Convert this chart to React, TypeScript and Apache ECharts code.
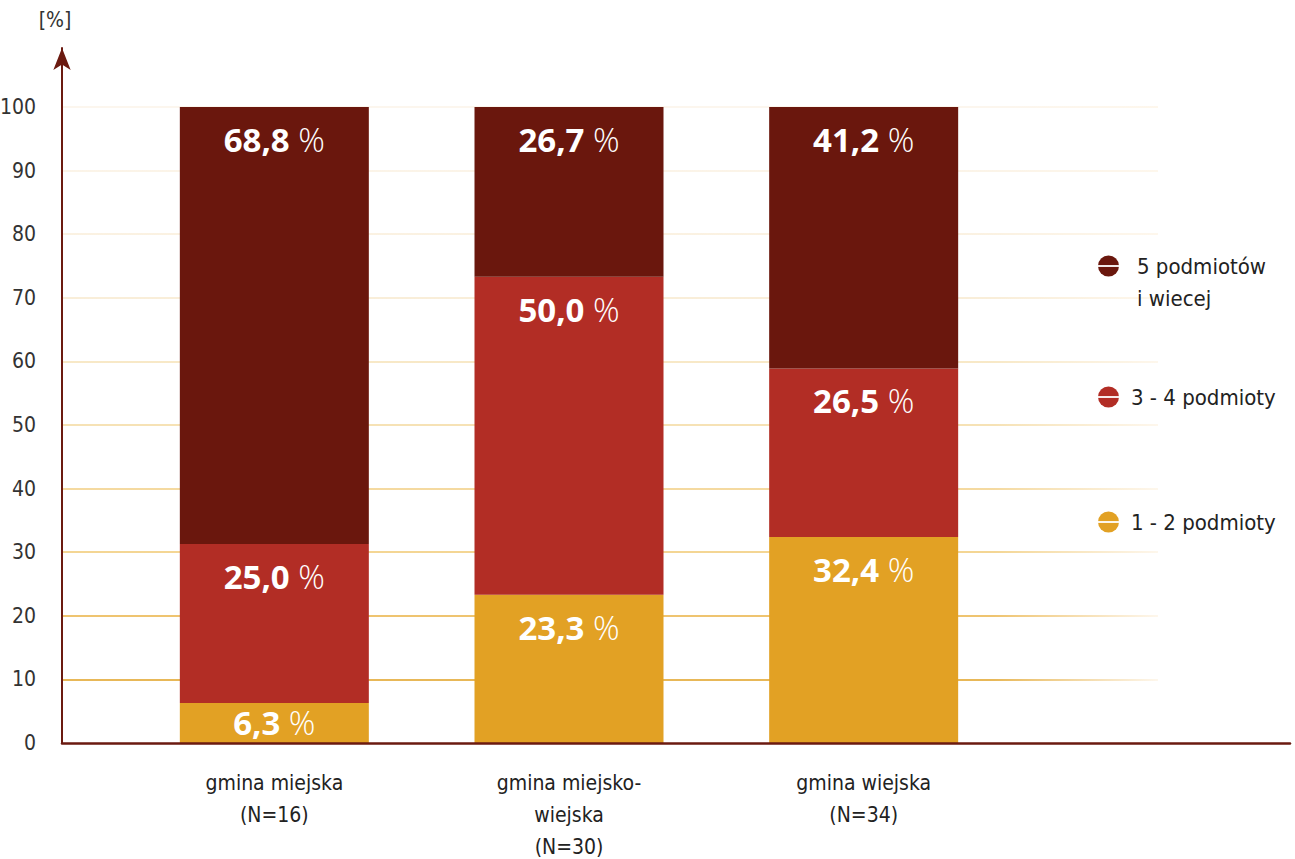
import React, { useEffect, useRef } from "react";
import * as echarts from "echarts";

const categories = ["gmina miejska\n(N=16)", "gmina miejsko-\nwiejska\n(N=30)", "gmina wiejska\n(N=34)"];
const seriesNames = ["1 - 2 podmioty", "3 - 4 podmioty", "5 podmiotów i wiecej"];
const values12 = [6.3, 23.3, 32.4];
const values34 = [25.0, 50.0, 26.5];
const values5 = [68.8, 26.7, 41.2];
const yTicksMax = 100;
const yTickStep = 10;

const COLORS = ["#e2a124", "#b22d25", "#6a170d"];
const AXIS_COLOR = "#6b1a10";
const NARROW = '"Liberation Sans Narrow", "DejaVu Sans Condensed", "Roboto Condensed", sans-serif';
const GRID_COLORS = ["#ffffff", "#e0a020", "#e9b040", "#f0c870", "#f1cd80", "#f3d89c", "#f5e1b4", "#f7e8cc", "#f9edd8", "#faf0e0", "#fbf3e8"];

function gradientFor(c: string) {
  return {
    type: "linear",
    x: 62, y: 0, x2: 1158, y2: 0,
    global: true,
    colorStops: [
      { offset: 0, color: c },
      { offset: 0.85, color: c },
      { offset: 1, color: "#fdf4e6" },
    ],
  };
}

function iconSvg(color: string, w: number, h: number, cy: number) {
  const svg = `<svg xmlns="http://www.w3.org/2000/svg" width="${w}" height="${h}" viewBox="0 0 ${w} ${h}"><circle cx="10.5" cy="${cy}" r="10.5" fill="${color}"/><rect x="0" y="${cy - 0.9}" width="21" height="1.8" fill="#ffffff"/></svg>`;
  return "image://data:image/svg+xml;utf8," + encodeURIComponent(svg);
}

function fmt(v: number) {
  return v.toFixed(1).replace(".", ",");
}

export default function App() {
  const ref = useRef<HTMLDivElement>(null);
  useEffect(() => {
    if (!ref.current) return;
    const chart = echarts.init(ref.current, null, { renderer: "svg" });
    const lists = [values12, values34, values5];
    const labelRich = {
      v: { fontFamily: '"Open Sans", sans-serif', fontWeight: "bold", fontSize: 33, color: "#ffffff" },
      p: { fontFamily: '"Open Sans", Lato, sans-serif', fontWeight: 300, fontSize: 33, color: "#ffffff" },
    };
    const series = lists.map((arr, i) => ({
      type: "bar",
      name: seriesNames[i],
      stack: "total",
      xAxisIndex: 0,
      yAxisIndex: 0,
      barWidth: 189,
      itemStyle: { color: COLORS[i] },
      label: {
        show: true,
        position: "insideTop",
        distance: 16,
        formatter: (p: any) => `{v|${fmt(p.value)}}{p| %}`,
        rich: labelRich,
      },
      data: arr.map((v) => (v < 10 ? { value: v, label: { position: "inside" } } : v)),
    }));

    const legendCommon = {
      left: 1093,
      orient: "vertical",
      selectedMode: false,
      textStyle: { fontFamily: NARROW, fontSize: 22, color: "#222222" },
    };

    chart.setOption({
      animation: false,
      backgroundColor: "#ffffff",
      grid: [
        { left: 127, width: 884, top: 107, bottom: 116, outerBoundsMode: "none", containLabel: false },
        { left: 62, right: 137, top: 107, bottom: 116, outerBoundsMode: "none", containLabel: false },
        { left: 62, right: 5, top: 48, bottom: 116, outerBoundsMode: "none", containLabel: false },
      ],
      xAxis: [
        {
          type: "category",
          gridIndex: 0,
          data: categories,
          axisLine: { show: false },
          axisTick: { show: false },
          axisLabel: { margin: 24, fontFamily: NARROW, fontSize: 21, color: "#222222", lineHeight: 32 },
        },
        { type: "value", gridIndex: 1, show: false, min: 0, max: 1 },
        {
          type: "category",
          gridIndex: 2,
          data: [""],
          z: 5,
          axisLine: { show: true, lineStyle: { color: AXIS_COLOR, width: 2.5 } },
          axisTick: { show: false },
          axisLabel: { show: false },
        },
      ],
      yAxis: [
        { type: "value", gridIndex: 0, min: 0, max: yTicksMax, interval: yTickStep, show: false },
        {
          type: "value",
          gridIndex: 1,
          min: 0,
          max: yTicksMax,
          interval: yTickStep,
          axisLine: { show: false },
          axisTick: { show: false },
          axisLabel: { margin: 26, fontFamily: NARROW, fontSize: 21, color: "#333333" },
          splitLine: { show: true, lineStyle: { width: 1.5, color: GRID_COLORS.map(gradientFor) } },
        },
        {
          type: "value",
          gridIndex: 2,
          min: 0,
          max: 1,
          z: 5,
          name: "[%]",
          nameLocation: "end",
          nameGap: 18,
          nameTextStyle: { fontFamily: NARROW, fontSize: 21, color: "#333333", padding: [0, 14, 0, 0] },
          axisLine: {
            show: true,
            symbol: ["none", "arrow"],
            symbolSize: [13, 22],
            lineStyle: { color: AXIS_COLOR, width: 2 },
          },
          axisTick: { show: false },
          axisLabel: { show: false },
          splitLine: { show: false },
        },
      ],
      legend: [
        {
          ...legendCommon,
          top: 245,
          itemWidth: 34,
          itemHeight: 64,
          data: [{ name: seriesNames[2], icon: iconSvg(COLORS[2], 34, 64, 16) }],
          formatter: () => "5 podmiotów\ni wiecej",
          textStyle: { ...legendCommon.textStyle, lineHeight: 32 },
        },
        {
          ...legendCommon,
          top: 381,
          itemWidth: 28,
          itemHeight: 22,
          data: [{ name: seriesNames[1], icon: iconSvg(COLORS[1], 28, 22, 11) }],
        },
        {
          ...legendCommon,
          top: 506,
          itemWidth: 28,
          itemHeight: 22,
          data: [{ name: seriesNames[0], icon: iconSvg(COLORS[0], 28, 22, 11) }],
        },
      ],
      series,
    });
    return () => chart.dispose();
  }, []);
  return <div ref={ref} style={{ width: 1295, height: 859, position: "absolute", left: 0, top: 0 }} />;
}
